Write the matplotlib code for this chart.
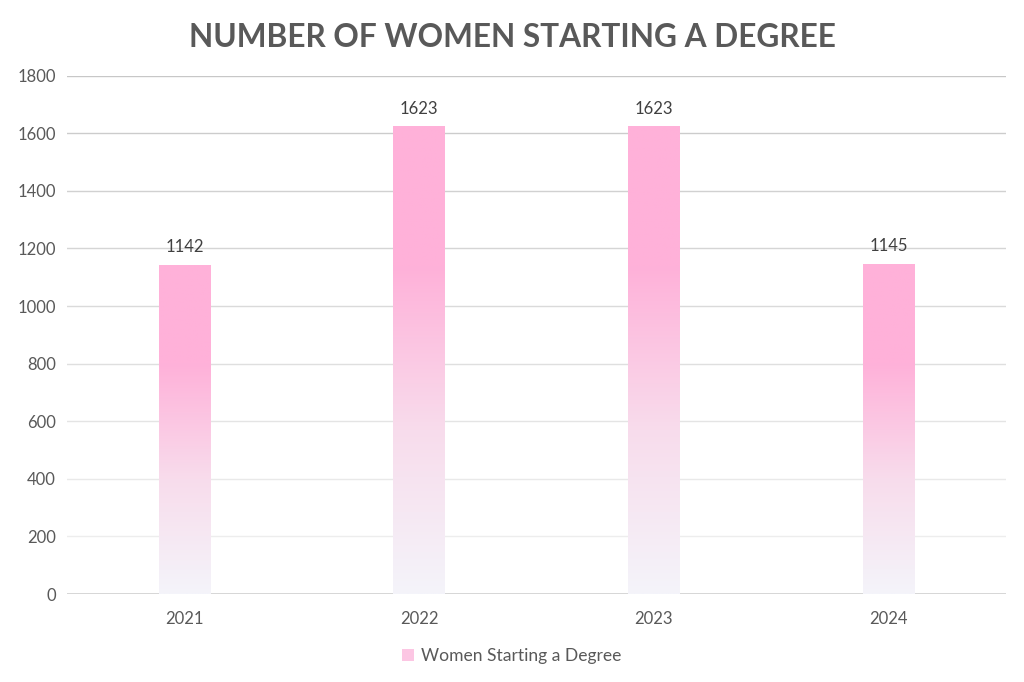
import numpy as np
import matplotlib.pyplot as plt
from matplotlib.colors import LinearSegmentedColormap
from matplotlib.patches import Patch

# Datos
anos = ['2021', '2022', '2023', '2024']
mujeres = [1142, 1623, 1623, 1145]
serie = 'Women Starting a Degree'

gris = '#595959'
plt.rcParams['font.family'] = ['Lato', 'DejaVu Sans']

# degradado de cada barra: abajo casi blanco, arriba rosa
cmap = LinearSegmentedColormap.from_list('rosa', [
    (0.0, '#F4F4FA'), (0.35, '#F8DCEC'), (0.7, '#FFB1D9'), (1.0, '#FFB1D9')])
grad = np.linspace(0, 1, 256).reshape(-1, 1)

fig = plt.figure(figsize=(10.24, 6.82), dpi=100)
ax = fig.add_axes([0.0654, 0.129, 0.9170, 0.760])

ancho = 0.22
x = np.arange(len(anos))
barras = ax.bar(x, mujeres, width=ancho, color='none', zorder=3)
for xi, v in zip(x, mujeres):
    ax.imshow(grad, cmap=cmap, origin='lower', aspect='auto', zorder=3,
              extent=[xi - ancho / 2, xi + ancho / 2, 0, v])
    ax.text(xi, v + 35, str(v), ha='center', va='bottom', fontsize=12,
            color='#404040')

# lineas de la grilla, mas claras hacia abajo
ticks = np.arange(0, 2000, 200)
for t in ticks[1:]:
    f = t / 1800
    g = 0.95 - 0.17 * f
    ax.axhline(t, color=(g, g, g), linewidth=1, zorder=1)
ax.axhline(0, color='#D0D0D0', linewidth=1.2, zorder=2)

ax.set_xlim(-0.5, 3.5)
ax.set_ylim(0, 1800)
ax.set_yticks(ticks)
ax.set_xticks(x)
ax.set_xticklabels(anos)
ax.tick_params(length=0, labelsize=12, colors=gris, pad=8)
ax.tick_params(axis='x', pad=12)
for s in ax.spines.values():
    s.set_visible(False)

fig.suptitle('NUMBER OF WOMEN STARTING A DEGREE', x=0.5, y=0.966,
             fontsize=22.8, fontweight='bold', color=gris)

fig.legend(handles=[Patch(facecolor='#FCC6E3', label=serie)],
           loc='center', bbox_to_anchor=(0.5, 0.038), frameon=False,
           fontsize=12.6, labelcolor=gris, handlelength=0.7, handleheight=0.7,
           handletextpad=0.4)

plt.savefig('out.png', dpi=100)
